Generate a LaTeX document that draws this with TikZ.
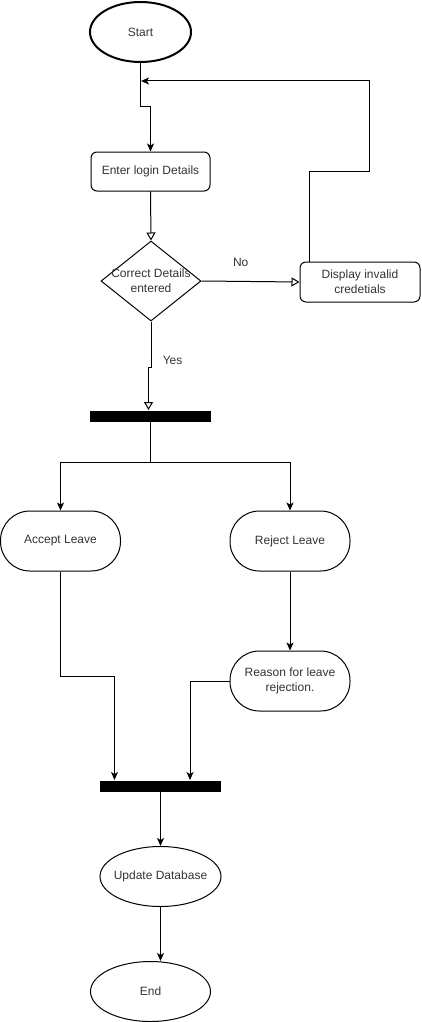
\documentclass[tikz,border=0pt]{standalone}
\usepackage{fontspec}
\setmainfont{Liberation Sans}
\usetikzlibrary{arrows.meta}
\usetikzlibrary{shapes.geometric}

\begin{document}
\begin{tikzpicture}[x=1pt, y=-1pt, line width=1pt, font=\fontsize{12}{15}\selectfont, text=black!80,
  box/.style={draw, rounded corners=6pt, minimum width=119pt, minimum height=39pt, align=center},
  pill/.style={draw, rounded corners=29.5pt, minimum width=120pt, minimum height=60pt, align=center},
  oval/.style={draw, ellipse, minimum width=121pt, minimum height=60pt, inner sep=0},
  bar/.style={fill=black, minimum width=121pt, minimum height=11pt, inner sep=0},
  arr/.style={-{Stealth[length=8pt, width=7pt, inset=2pt]}},
  oarr/.style={-{Triangle[open, length=8pt, width=9pt, fill=white]}}]
\useasboundingbox (0,0) rectangle (421,1022);
\node[oval, line width=2pt, minimum width=101pt] (start) at (140.5,32) {Start};
\node[box] (login) at (150.5,171.5) {Enter login Details};
\node[draw, diamond, minimum width=100pt, minimum height=80pt, inner sep=0] (check) at (151,281) {};
\node[align=center] (checktext) at (check.center) {Correct Details\\entered};
\node[box, minimum width=120pt, minimum height=40pt] (invalid) at (360,282) {Display invalid\\credetials};
\node[bar] (fork) at (150.5,416) {};
\node[pill] (accept) at (60.5,541) {Accept Leave};
\node[pill] (reject) at (290,541) {Reject Leave};
\node[pill] (reason) at (290,681) {Reason for leave\\rejection.};
\node[bar] (join) at (160.5,786) {};
\node[oval] (update) at (160.5,876.5) {};
\node (updatetext) at (update.center) {Update Database};
\node[oval, minimum width=120pt] (finish) at (150.5,991.5) {End};
\coordinate (reentry) at (141,81);

\draw[arr] (start.south) -- ++(0,44) -| (login.north);
\draw[arr] ([xshift=10pt]invalid.north west) -- ++(0,-90) -- ++(60,0) |- (reentry);
\draw[oarr] (login.south) -- (check.north);
\draw[oarr] (check.east) -- (invalid.west) node[pos=0.4, above=11pt] (nolabel) {No};
\draw[oarr] (check.south) -- ++(0,46) node[pos=0.85, right=8pt] (yeslabel) {Yes} -| ([xshift=-2pt]fork.north);
\draw[arr] (fork.south) -- ++(0,40) -| (accept.north);
\draw[arr] (fork.south) -- ++(0,40) -| (reject.north);
\draw[arr] (reject.south) -- (reason.north);
\draw[arr] (accept.south) -- ++(0,105) -| ([xshift=-46pt]join.north);
\draw[arr] (reason.west) -| ([xshift=29.5pt]join.north);
\draw[arr] (join.south) -- (update.north);
\draw[arr] (update.south) -- (update.south |- finish.north);
\end{tikzpicture}
\end{document}
